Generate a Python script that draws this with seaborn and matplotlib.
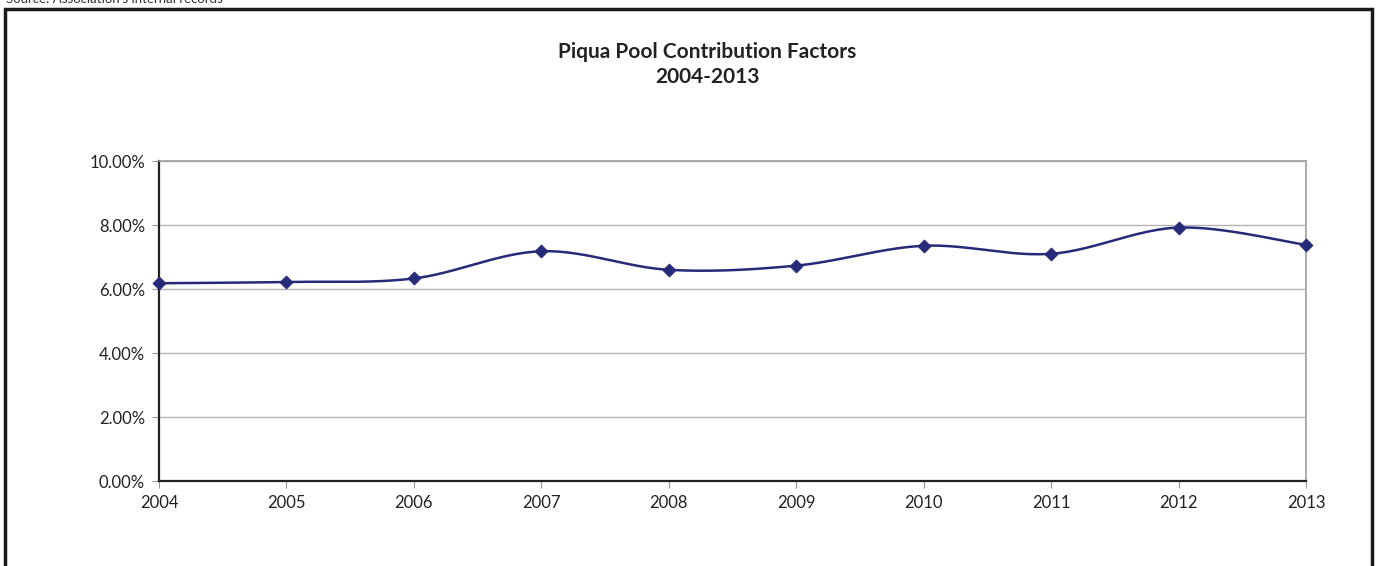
import numpy as np
import pandas as pd
import matplotlib
matplotlib.use("Agg")
import matplotlib.pyplot as plt
import seaborn as sns
from matplotlib.patches import Rectangle
from matplotlib.ticker import FuncFormatter

# Data
years = [2004, 2005, 2006, 2007, 2008, 2009, 2010, 2011, 2012, 2013]
factors = [6.18, 6.22, 6.33, 7.18, 6.60, 6.73, 7.35, 7.10, 7.92, 7.38]
title_lines = ["Piqua Pool Contribution Factors", "2004-2013"]
source_note = "Source: Association's internal records"

LINE_COLOR = "#262a78"


def excel_smooth(x, y, n=30):
    # Excel style smoothed line: cubic Bezier with Catmull-Rom control points
    x = np.asarray(x, float)
    y = np.asarray(y, float)
    xp = np.concatenate([[x[0]], x, [x[-1]]])
    yp = np.concatenate([[y[0]], y, [y[-1]]])
    xs, ys = [], []
    t = np.linspace(0, 1, n)
    for i in range(len(x) - 1):
        p0 = np.array([xp[i + 1], yp[i + 1]])
        p3 = np.array([xp[i + 2], yp[i + 2]])
        p1 = p0 + (np.array([xp[i + 2], yp[i + 2]]) - np.array([xp[i], yp[i]])) / 6
        p2 = p3 - (np.array([xp[i + 3], yp[i + 3]]) - np.array([xp[i + 1], yp[i + 1]])) / 6
        b = ((1 - t) ** 3)[:, None] * p0 + (3 * (1 - t) ** 2 * t)[:, None] * p1 \
            + (3 * (1 - t) * t ** 2)[:, None] * p2 + (t ** 3)[:, None] * p3
        xs.extend(b[:, 0])
        ys.extend(b[:, 1])
    return np.array(xs), np.array(ys)


sns.set_theme(style="white")
plt.rcParams['font.family'] = ['Lato', 'DejaVu Sans']

W, H = 1378, 566
fig = plt.figure(figsize=(W / 100, H / 100), dpi=100)
ax = fig.add_axes([159 / W, (H - 481) / H, (1306 - 159) / W, (481 - 161) / H])

df = pd.DataFrame({"year": years, "factor": factors})
sx, sy = excel_smooth(df["year"], df["factor"])
smooth = pd.DataFrame({"year": sx, "factor": sy})
sns.lineplot(data=smooth, x="year", y="factor", sort=False, color=LINE_COLOR,
             linewidth=1.8, ax=ax, zorder=3)
sns.scatterplot(data=df, x="year", y="factor", marker="D", s=45, color=LINE_COLOR,
                edgecolor=LINE_COLOR, linewidth=0.5, ax=ax, zorder=4, clip_on=False)

ax.set_xlim(years[0], years[-1])
ax.set_ylim(0, 10)
ax.set_xticks(years)
ax.set_yticks(np.arange(0, 10.01, 2))
ax.yaxis.set_major_formatter(FuncFormatter(lambda v, p: f"{v:.2f}%"))
ax.set_xlabel("")
ax.set_ylabel("")
ax.grid(axis="y", color="#b3b3b3", linewidth=1)
ax.set_axisbelow(True)

for side in ["top", "right"]:
    ax.spines[side].set_color("#a0a0a0")
    ax.spines[side].set_linewidth(1.2)
for side in ["left", "bottom"]:
    ax.spines[side].set_color("#222222")
    ax.spines[side].set_linewidth(1.6)

ax.tick_params(axis="both", which="major", direction="out", length=5, width=0.8,
               color="#999999", labelsize=12, labelcolor="#222222")
ax.tick_params(axis="x", pad=5)
ax.tick_params(axis="y", pad=5)
ax.xaxis.set_ticks_position("bottom")
ax.yaxis.set_ticks_position("left")

# Title
fig.text(707 / W, 1 - 52 / H, title_lines[0], ha="center", va="center",
         fontsize=15, fontweight="bold", color="#222222")
fig.text(707 / W, 1 - 77 / H, title_lines[1], ha="center", va="center",
         fontsize=15, fontweight="bold", color="#222222")

# Outer chart frame (runs off the bottom of the image)
fig.patches.append(Rectangle((5 / W, -0.1), (1372 - 5) / W, (1 - 9 / H) + 0.1,
                             transform=fig.transFigure, fill=False,
                             edgecolor="#1a1a1a", linewidth=2.5))

# Source note, mostly cut off at top edge as in the original page crop
fig.text(6 / W, 1 - 3 / H, source_note, ha="left", va="baseline",
         fontsize=9.5, color="#333333")

fig.savefig("out.png", dpi=100, facecolor="white")
